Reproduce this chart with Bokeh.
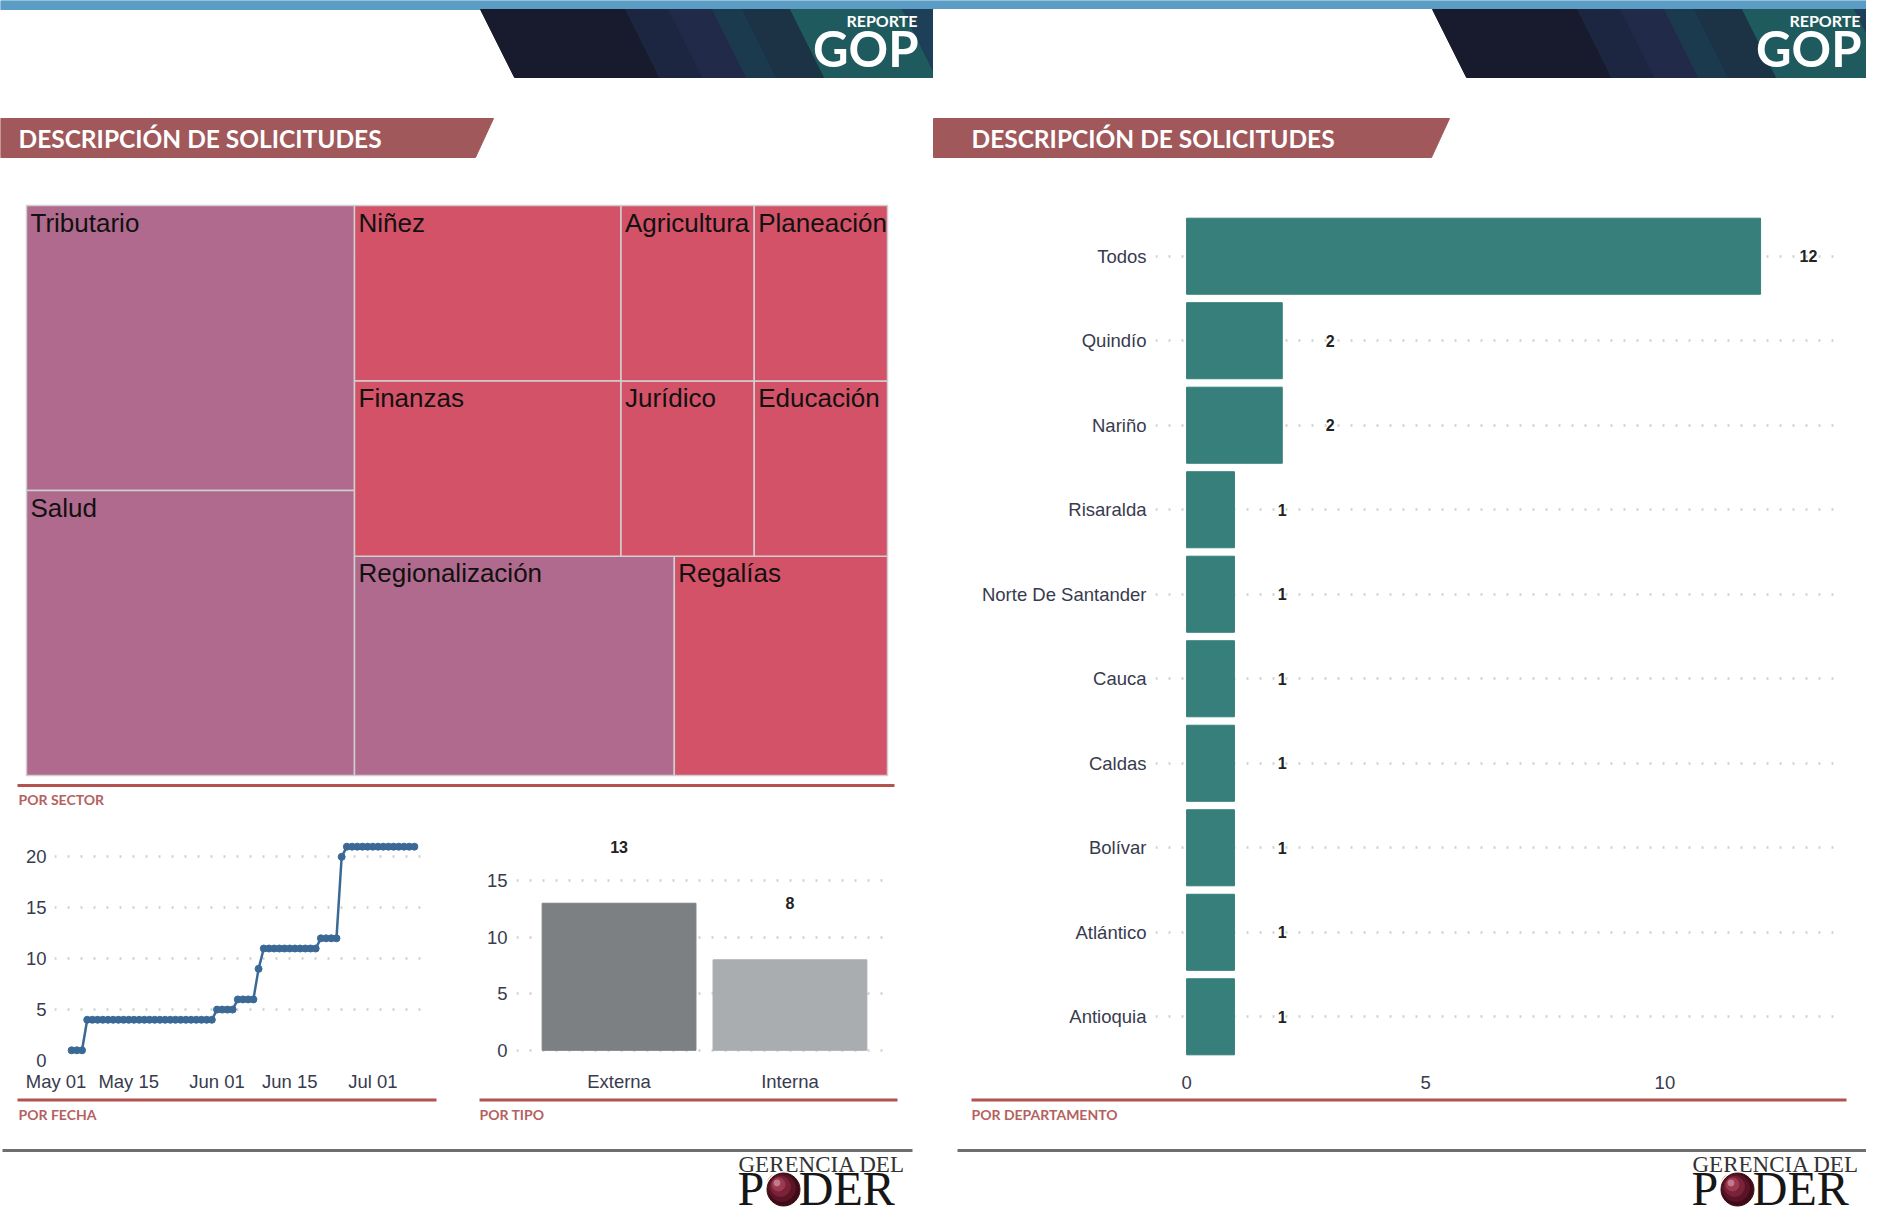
import pandas as pd
from bokeh.plotting import figure
from bokeh.layouts import column, row
from bokeh.models import Range1d, FactorRange, FixedTicker, DatetimeTickFormatter
from bokeh.core.properties import value
from bokeh.embed import file_html
from bokeh.resources import INLINE

# ---------------- data ----------------
sectores = ["Tributario", "Salud", "Regionalización", "Regalías", "Niñez",
            "Finanzas", "Jurídico", "Educación", "Agricultura", "Planeación"]
sector_valores = [4, 4, 3, 2, 2, 2, 1, 1, 1, 1]
sector_grupo = ["A", "A", "A", "B", "B", "B", "B", "B", "B", "B"]
grupo_colores = {"A": "#b06a8d", "B": "#d45268"}

fecha_inicio = "2020-05-04"
fecha_fin = "2020-07-09"
acumulado = [1, 1, 1,
             4, 4, 4, 4, 4, 4, 4, 4, 4, 4, 4, 4, 4, 4, 4, 4, 4, 4, 4, 4, 4, 4, 4, 4, 4,
             5, 5, 5, 5,
             6, 6, 6, 6,
             9,
             11, 11, 11, 11, 11, 11, 11, 11, 11, 11, 11,
             12, 12, 12, 12,
             20,
             21, 21, 21, 21, 21, 21, 21, 21, 21, 21, 21, 21, 21, 21]
fecha_ticks = ["2020-05-01", "2020-05-15", "2020-06-01", "2020-06-15", "2020-07-01"]

tipos = ["Externa", "Interna"]
tipo_valores = [13, 8]
tipo_colores = ["#7c8083", "#a9adb0"]

departamentos = ["Todos", "Quindío", "Nariño", "Risaralda", "Norte De Santander",
                 "Cauca", "Caldas", "Bolívar", "Atlántico", "Antioquia"]
depto_valores = [12, 2, 2, 1, 1, 1, 1, 1, 1, 1]

# ---------------- styles ----------------
TICK_FONT = "Liberation Sans"
TICK_COLOR = "#383b4e"
CAPTION_COLOR = "#b5615f"
RULE_COLOR = "#b25350"
GRID_COLOR = "#d0d0d0"


def no_align(p):
    if "frame_align" in p.properties():
        p.frame_align = False
    return p


def deco(x0, x1, y0, y1):
    p = figure(width=x1 - x0, height=y1 - y0, x_range=Range1d(x0, x1),
               y_range=Range1d(y1, y0), toolbar_location=None, output_backend="svg",
               min_border=0, x_axis_type=None, y_axis_type=None, title=None)
    p.outline_line_color = None
    p.background_fill_color = "white"
    p.border_fill_color = "white"
    return no_align(p)


def style_axes(p, xstand, ystand):
    for ax in p.axis:
        ax.axis_line_color = None
        ax.major_tick_line_color = None
        ax.minor_tick_line_color = None
        ax.major_tick_out = 0
        ax.major_tick_in = 0
        ax.minor_tick_out = 0
        ax.major_label_text_font = TICK_FONT
        ax.major_label_text_font_size = "18.5px"
        ax.major_label_text_color = TICK_COLOR
    p.xaxis.major_label_standoff = xstand
    p.yaxis.major_label_standoff = ystand
    p.xgrid.visible = False
    p.ygrid.grid_line_color = GRID_COLOR
    p.ygrid.grid_line_dash = "2 11"
    p.ygrid.grid_line_width = 2.5
    p.outline_line_color = None
    p.background_fill_color = "white"
    p.border_fill_color = "white"
    no_align(p)


def worst(r, side):
    s = sum(r)
    return max(max(side * side * a / (s * s), (s * s) / (side * side * a)) for a in r)


def squarify(vals, x, y, w, h):
    total = sum(vals)
    areas = [v * w * h / total for v in vals]
    out = []
    i = 0
    while i < len(areas):
        side = min(w, h)
        cur = [areas[i]]
        j = i + 1
        while j < len(areas) and worst(cur + [areas[j]], side) <= worst(cur, side):
            cur.append(areas[j])
            j += 1
        s = sum(cur)
        if w >= h:
            t = s / h
            yy = y
            for a in cur:
                hh = a / t
                out.append((x, x + t, yy, yy + hh))
                yy += hh
            x += t
            w -= t
        else:
            t = s / w
            xx = x
            for a in cur:
                ww = a / t
                out.append((xx, xx + ww, y + h - t, y + h))
                xx += ww
            h -= t
        i = j
    return out


def caption(p, xs, y, texts):
    p.text(x=xs, y=[y] * len(xs), text=texts, text_font=value("Lato"),
           text_font_style="bold", text_font_size="14px", text_color=CAPTION_COLOR,
           text_baseline="middle")


# ---------------- header ----------------
hd = deco(0, 1866, 0, 190)
hd.quad(left=0, right=1900, top=0, bottom=9, color="#5b9cc5")


def banner(p, off, text_right):
    y0, y1, sl = 9, 77, 0.5
    d = sl * (y1 - y0)
    p.patch([480 + off, 2000, 2000, 480 + off + d], [y0, y0, y1, y1], color="#181a2d")
    bands = [(625, 668, "#1d2641"), (668, 712, "#212a48"), (712, 742, "#1c3a4d"),
             (742, 790, "#1b3345"), (790, 902, "#1e5a5e"), (902, 960, "#1e3f58")]
    for a, b, c in bands:
        p.patch([a + off, b + off, b + off + d, a + off + d], [y0, y0, y1, y1], color=c)
    p.text(x=[text_right], y=[19.5], text=["REPORTE"], text_font=value("Lato"),
           text_font_style="bold", text_font_size="16px", text_color="white",
           text_align="right", text_baseline="middle")
    p.text(x=[text_right + 1], y=[47], text=["GOP"], text_font=value("Lato"),
           text_font_style="bold", text_font_size="49px", text_color="white",
           text_align="right", text_baseline="middle")


banner(hd, 0, 917)
hd.quad(left=933, right=1500, top=9, bottom=78, color="white")
banner(hd, 952, 1860)

for off, w_top, w_bot in ((0, 493, 475), (933, 516, 498)):
    hd.patch([off, off + w_top, off + w_bot, off], [118, 118, 157, 157], color="#a0585a")
hd.text(x=[18, 971], y=[138, 138], text=["DESCRIPCIÓN DE SOLICITUDES"] * 2,
        text_font=value("Lato"), text_font_style="bold", text_font_size="24.5px",
        text_color="white", text_baseline="middle")

# ---------------- treemap ----------------
tm = deco(0, 932, 190, 812)
rects = squarify(sector_valores, 26, 205, 861, 570)
tm.quad(left=[r[0] for r in rects], right=[r[1] for r in rects],
        top=[r[2] for r in rects], bottom=[r[3] for r in rects],
        fill_color=[grupo_colores[g] for g in sector_grupo],
        line_color="#cfcfcf", line_width=1.5)
tm.text(x=[r[0] + 4 for r in rects], y=[r[2] + 2 for r in rects], text=sectores,
        text_font=value(TICK_FONT), text_font_size="26px", text_color="#111111",
        text_baseline="top", text_align="left")
tm.line(x=[17, 894], y=[785, 785], line_color=RULE_COLOR, line_width=3)
caption(tm, [18], 799, ["POR SECTOR"])

# ---------------- line chart (por fecha) ----------------
fechas = pd.date_range(fecha_inicio, fecha_fin, freq="D")
pad = pd.Timedelta(days=3.3)
lf = figure(width=462, height=282, x_axis_type="datetime",
            x_range=Range1d(fechas[0] - pad, fechas[-1] + pad), y_range=Range1d(0, 22),
            toolbar_location=None, output_backend="svg", title=None,
            min_border_left=54, min_border_right=31, min_border_top=24, min_border_bottom=28)
lf.line(x=fechas, y=acumulado, line_color="#3b6996", line_width=2.5)
lf.scatter(x=fechas, y=acumulado, size=7, color="#3b6996")
lf.xaxis.ticker = FixedTicker(ticks=[pd.Timestamp(t).timestamp() * 1000 for t in fecha_ticks])
lf.xaxis.formatter = DatetimeTickFormatter(days="%b %d", months="%b %d", years="%b %d")
lf.yaxis.ticker = FixedTicker(ticks=[0, 5, 10, 15, 20])
style_axes(lf, 10, 8)

# ---------------- bar chart (por tipo) ----------------
bf = figure(width=470, height=282, x_range=FactorRange(*tipos, range_padding=0.1),
            y_range=Range1d(-0.9, 18.9), toolbar_location=None, output_backend="svg",
            title=None, min_border_left=54, min_border_right=40, min_border_top=24,
            min_border_bottom=28)
bf.vbar(x=tipos, top=tipo_valores, width=0.9, color=tipo_colores)
bf.text(x=tipos, y=[v + 5 for v in tipo_valores], text=[str(v) for v in tipo_valores],
        text_font=value(TICK_FONT), text_font_style="bold", text_font_size="16px",
        text_color="#222222", text_align="center", text_baseline="middle")
bf.yaxis.ticker = FixedTicker(ticks=[0, 5, 10, 15])
style_axes(bf, 10, 9)

# ---------------- left strip ----------------
sl = deco(0, 932, 1094, 1130)
sl.line(x=[17, 436], y=[1099.5, 1099.5], line_color=RULE_COLOR, line_width=3)
sl.line(x=[479, 897], y=[1099.5, 1099.5], line_color=RULE_COLOR, line_width=3)
caption(sl, [18, 479], 1114, ["POR FECHA", "POR TIPO"])

# ---------------- right chart (por departamento) ----------------
dep_factors = list(reversed(departamentos))
df = figure(width=934, height=904, y_range=FactorRange(*dep_factors, range_padding=0.02),
            x_range=Range1d(-0.65, 13.65), toolbar_location=None, output_backend="svg",
            title=None, min_border_left=223, min_border_right=27, min_border_top=15,
            min_border_bottom=27)
df.hbar(y=departamentos, right=depto_valores, height=0.9, color="#367f7b")
df.text(x=[v + 1 for v in depto_valores], y=departamentos, text=[str(v) for v in depto_valores],
        text_font=value(TICK_FONT), text_font_style="bold", text_font_size="16px",
        text_color="#222222", text_align="center", text_baseline="middle")
df.xaxis.ticker = FixedTicker(ticks=[0, 5, 10])
style_axes(df, 8, 9)

sr = deco(932, 1866, 1094, 1130)
sr.line(x=[971, 1846], y=[1099.5, 1099.5], line_color=RULE_COLOR, line_width=3)
caption(sr, [971], 1114, ["POR DEPARTAMENTO"])

# ---------------- footer ----------------
ft = deco(0, 1866, 1130, 1214)
ft.line(x=[2, 912], y=[1150, 1150], line_color="#6e6e6e", line_width=3)
ft.line(x=[957, 1866], y=[1150, 1150], line_color="#6e6e6e", line_width=3)
for off in (0, 954):
    ft.text(x=[738 + off], y=[1164], text=["GERENCIA DEL"], text_font=value("Liberation Serif"),
            text_font_size="23px", text_color="#333333", text_baseline="middle")
    ft.text(x=[737 + off], y=[1188], text=["PODER"], text_font=value("Liberation Serif"),
            text_font_size="48px", text_color="#161616", text_baseline="middle")
    cx, cy = 783 + off, 1189
    ft.circle(x=[cx], y=[cy], radius=18, color="white")
    for dr, dx, c in ((16.5, 0, "#3f0b17"), (13.5, -1.5, "#5a1426"), (10, -3, "#7a2238"),
                      (6.5, -5, "#9c3a52"), (3, -6.5, "#c27a8c")):
        ft.circle(x=[cx + dx], y=[cy + dx], radius=dr, color=c)

page = column(hd, row(column(tm, row(lf, bf), sl), column(df, sr)), ft)
open("out.html", "w").write(file_html(page, INLINE))
